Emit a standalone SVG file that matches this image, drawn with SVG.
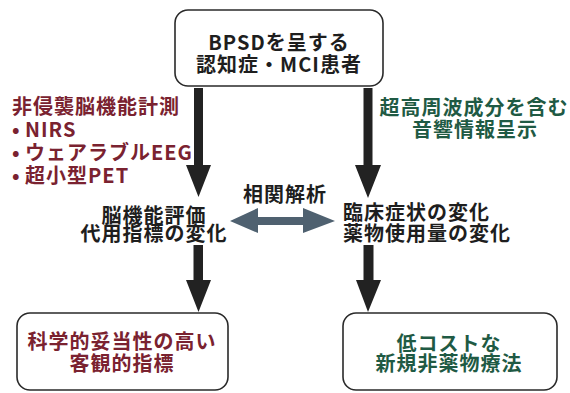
<svg xmlns="http://www.w3.org/2000/svg" width="570" height="393" viewBox="0 0 570 393">
<style>
text{font-family:"Noto Sans CJK JP","Noto Sans",sans-serif;font-size:20px;font-weight:bold;letter-spacing:1px}
.k{fill:#1e1e1e}
.r{fill:#7a2230}
.g{fill:#1f5a44}
.m{text-anchor:middle}
.box{fill:#fff;stroke:#2a2a2a;stroke-width:1.6}
.arr{fill:#222}
</style>
<rect width="570" height="393" fill="#fff"/>
<g id="connectors">
<path class="arr" d="M194,88 H203 V165 H211 L198.5,197 L186,165 H194 Z"/>
<path class="arr" d="M363.5,88 H372.5 V165 H381 L368,198 L355,165 H363.5 Z"/>
<path class="arr" d="M193.5,245 H203 V280 H211 L198.5,312 L186,280 H193.5 Z"/>
<path class="arr" d="M363.5,245 H373.5 V280 H381 L368,312 L356,280 H363.5 Z"/>
<path fill="#4f6170" d="M230,221 L258,208 V217 H303 V208 L335,221 L303,233 V225 H258 V233 Z"/>
</g>
<g id="top">
<rect class="box" x="175" y="10" width="208" height="76" rx="13"/>
<text class="k m" x="279" y="50">BPSDを呈する</text>
<text class="k m" x="279" y="72">認知症・MCI患者</text>
</g>
<g id="left-label">
<text class="r" x="12" y="114">非侵襲脳機能計測</text>
<text class="r" x="12" y="137">• <tspan x="25">NIRS</tspan></text>
<text class="r" x="12" y="160">• <tspan x="25">ウェアラブルEEG</tspan></text>
<text class="r" x="12" y="183">• <tspan x="25">超小型PET</tspan></text>
</g>
<g id="right-label">
<text class="g m" x="474" y="115">超高周波成分を含む</text>
<text class="g m" x="475" y="137">音響情報呈示</text>
</g>
<g id="correlation">
<text class="k m" x="285" y="202">相関解析</text>
</g>
<g id="left-mid">
<text class="k m" x="154" y="223">脳機能評価</text>
<text class="k m" x="154" y="241">代用指標の変化</text>
</g>
<g id="right-mid">
<text class="k" x="343" y="220">臨床症状の変化</text>
<text class="k" x="343" y="241">薬物使用量の変化</text>
</g>
<g id="bottom-left">
<rect class="box" x="17" y="313" width="211" height="77" rx="13"/>
<text class="r m" x="122" y="349">科学的妥当性の高い</text>
<text class="r m" x="122" y="371">客観的指標</text>
</g>
<g id="bottom-right">
<rect class="box" x="343" y="313" width="214" height="77" rx="13"/>
<text class="g m" x="449" y="351">低コストな</text>
<text class="g m" x="449" y="371">新規非薬物療法</text>
</g>
</svg>
